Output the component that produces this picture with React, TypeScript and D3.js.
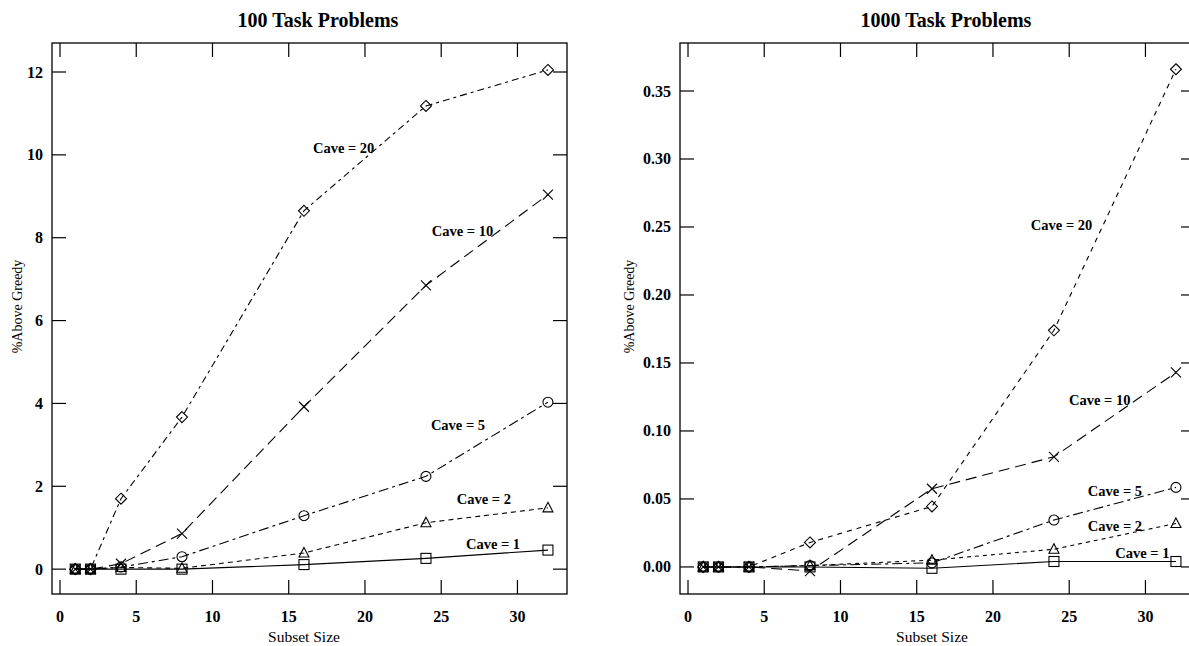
import React from "react";
import * as d3 from "d3";

const subsetSizes = [1, 2, 4, 8, 16, 24, 32];
const caveLabels = ["Cave = 1", "Cave = 2", "Cave = 5", "Cave = 10", "Cave = 20"];

// 100 task problems
const small_cave1 = [0, 0, 0, 0, 0.11, 0.26, 0.46];
const small_cave2 = [0, 0, 0.04, 0.02, 0.39, 1.12, 1.48];
const small_cave5 = [0, 0, 0.05, 0.3, 1.29, 2.24, 4.03];
const small_cave10 = [0, 0, 0.13, 0.86, 3.92, 6.85, 9.04];
const small_cave20 = [0, 0, 1.7, 3.67, 8.65, 11.18, 12.05];

// 1000 task problems
const large_cave1 = [0, 0, 0, 0, -0.001, 0.004, 0.004];
const large_cave2 = [0, 0, 0, 0.001, 0.005, 0.013, 0.032];
const large_cave5 = [0, 0, 0, 0.001, 0.003, 0.0345, 0.0585];
const large_cave10 = [0, 0, 0, -0.003, 0.0575, 0.081, 0.143];
const large_cave20 = [0, 0, 0, 0.018, 0.0445, 0.174, 0.366];

const xTicks = [0, 5, 10, 15, 20, 25, 30];
const smallYTicks = [0, 2, 4, 6, 8, 10, 12];
const largeYTicks = [0, 0.05, 0.1, 0.15, 0.2, 0.25, 0.3, 0.35];

const markers = ["square", "triangle", "circle", "x", "diamond"];

const FONT = "'Liberation Serif', 'DejaVu Serif', serif";

function Marker({ type, x, y }: { type: string; x: number; y: number }) {
  const s = 5;
  const common = { fill: "none", stroke: "#000", strokeWidth: 1.1 };
  if (type === "square") return <rect x={x - s} y={y - s} width={2 * s} height={2 * s} {...common} />;
  if (type === "circle") return <circle cx={x} cy={y} r={s} {...common} />;
  if (type === "triangle")
    return <path d={`M${x},${y - s - 0.5} L${x + s},${y + s - 1} L${x - s},${y + s - 1} Z`} {...common} />;
  if (type === "diamond")
    return <path d={`M${x},${y - s - 0.5} L${x + s + 0.5},${y} L${x},${y + s + 0.5} L${x - s - 0.5},${y} Z`} {...common} />;
  return <path d={`M${x - s},${y - s} L${x + s},${y + s} M${x - s},${y + s} L${x + s},${y - s}`} {...common} />;
}

type PanelProps = {
  title: string;
  x0: number;
  yTitleOffset: number;
  yDomain: [number, number];
  yTicks: number[];
  fmt: (v: number) => string;
  series: number[][];
  dashes: string[];
  labelPos: [number, number][];
};

function Panel({ title, x0, yTitleOffset, yDomain, yTicks, fmt, series, dashes, labelPos }: PanelProps) {
  const width = 515;
  const top = 43;
  const bottom = 594;
  const x = d3.scaleLinear().domain([-0.525, 33.25]).range([x0, x0 + width]);
  const y = d3.scaleLinear().domain(yDomain).range([bottom, top]);
  const line = d3
    .line<[number, number]>()
    .x((d) => x(d[0]))
    .y((d) => y(d[1]));
  const tl = 14;
  return (
    <g>
      <text x={x0 + 266} y={27} textAnchor="middle" fontFamily={FONT} fontWeight="bold" fontSize={20}>
        {title}
      </text>
      <rect x={x0} y={top} width={width} height={bottom - top} fill="none" stroke="#000" strokeWidth={1.3} />
      {xTicks.map((t) => (
        <g key={"xt" + t}>
          <line x1={x(t)} x2={x(t)} y1={bottom} y2={bottom - tl} stroke="#000" strokeWidth={1.2} />
          <line x1={x(t)} x2={x(t)} y1={top} y2={top + tl} stroke="#000" strokeWidth={1.2} />
          <text x={x(t)} y={622} textAnchor="middle" fontFamily={FONT} fontWeight="bold" fontSize={16}>
            {t}
          </text>
        </g>
      ))}
      {yTicks.map((t) => (
        <g key={"yt" + t}>
          <line x1={x0} x2={x0 + tl} y1={y(t)} y2={y(t)} stroke="#000" strokeWidth={1.2} />
          <line x1={x0 + width} x2={x0 + width - tl} y1={y(t)} y2={y(t)} stroke="#000" strokeWidth={1.2} />
          <text x={x0 - 9} y={y(t) + 5.5} textAnchor="end" fontFamily={FONT} fontWeight="bold" fontSize={16}>
            {fmt(t)}
          </text>
        </g>
      ))}
      <text x={x(16)} y={642} textAnchor="middle" fontFamily={FONT} fontSize={15.5}>
        Subset Size
      </text>
      <text
        transform={`translate(${x0 - yTitleOffset},${(top + bottom) / 2 - 12}) rotate(-90)`}
        textAnchor="middle"
        fontFamily={FONT}
        fontSize={14}
      >
        %Above Greedy
      </text>
      {series.map((vals, i) => {
        const pts = subsetSizes.map((s, j) => [s, vals[j]] as [number, number]);
        return (
          <g key={"s" + i}>
            <path d={line(pts) || ""} fill="none" stroke="#000" strokeWidth={1.1} strokeDasharray={dashes[i]} />
            {pts.map((p, j) => (
              <Marker key={j} type={markers[i]} x={x(p[0])} y={y(p[1])} />
            ))}
            <text
              x={x(labelPos[i][0])}
              y={y(labelPos[i][1]) + 5}
              textAnchor="middle"
              fontFamily={FONT}
              fontWeight="bold"
              fontSize={14.5}
            >
              {caveLabels[i]}
            </text>
          </g>
        );
      })}
    </g>
  );
}

export default function App() {
  return (
    <svg width={1189} height={646} style={{ position: "absolute", left: 0, top: 0, background: "#fff" }}>
      <rect width={1189} height={646} fill="#fff" />
      <Panel
        title="100 Task Problems"
        x0={52}
        yTitleOffset={30}
        yDomain={[-0.6, 12.7]}
        yTicks={smallYTicks}
        fmt={(v) => String(v)}
        series={[small_cave1, small_cave2, small_cave5, small_cave10, small_cave20]}
        dashes={["", "5,4", "10,4,3,4", "11,6", "7,4,3,4"]}
        labelPos={[
          [28.4, 0.61],
          [27.8, 1.7],
          [26.1, 3.49],
          [26.4, 8.17],
          [18.6, 10.16],
        ]}
      />
      <Panel
        title="1000 Task Problems"
        x0={680}
        yTitleOffset={46}
        yDomain={[-0.0199, 0.3853]}
        yTicks={largeYTicks}
        fmt={(v) => v.toFixed(2)}
        series={[large_cave1, large_cave2, large_cave5, large_cave10, large_cave20]}
        dashes={["", "4,4", "10,4,3,4", "11,6", "5,5"]}
        labelPos={[
          [29.8, 0.0103],
          [28.0, 0.03],
          [28.0, 0.056],
          [27.0, 0.123],
          [24.5, 0.2515],
        ]}
      />
    </svg>
  );
}
